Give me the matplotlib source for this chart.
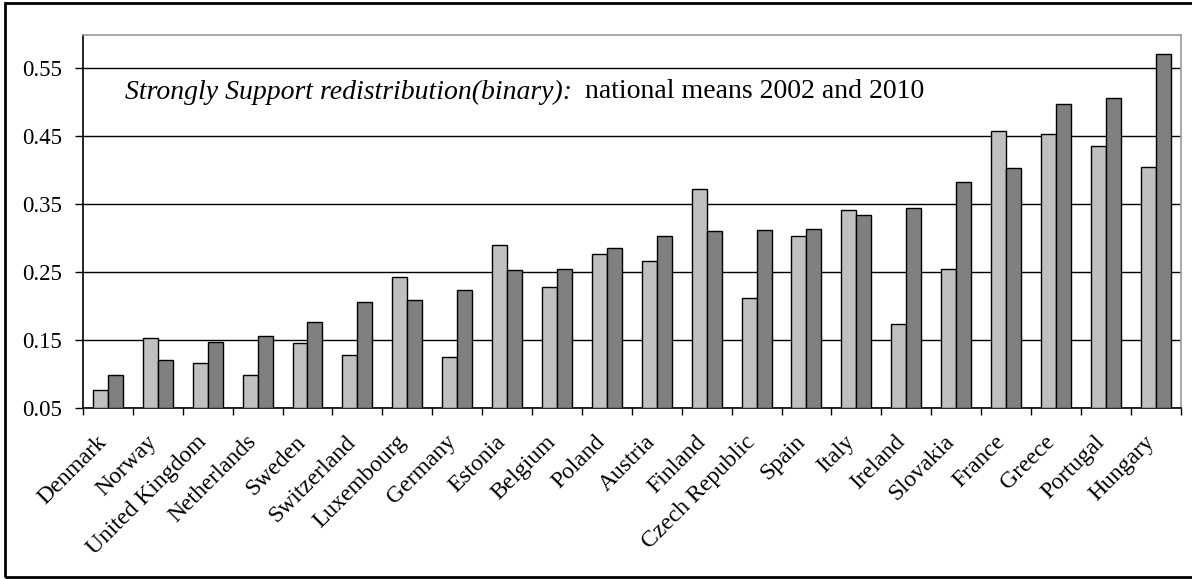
import numpy as np
import matplotlib.pyplot as plt
from matplotlib.patches import Rectangle
from matplotlib.transforms import ScaledTranslation

plt.rcParams['font.family'] = ['Liberation Serif', 'DejaVu Serif']

countries = ['Denmark', 'Norway', 'United Kingdom', 'Netherlands', 'Sweden',
             'Switzerland', 'Luxembourg', 'Germany', 'Estonia', 'Belgium',
             'Poland', 'Austria', 'Finland', 'Czech Republic', 'Spain', 'Italy',
             'Ireland', 'Slovakia', 'France', 'Greece', 'Portugal', 'Hungary']

# national means 2002 (light bars) and 2010 (dark bars)
means_2002 = [0.076, 0.153, 0.116, 0.098, 0.145, 0.127, 0.242, 0.125, 0.290,
              0.228, 0.277, 0.266, 0.373, 0.211, 0.303, 0.341, 0.173, 0.255,
              0.458, 0.453, 0.436, 0.405]
means_2010 = [0.098, 0.120, 0.147, 0.156, 0.177, 0.206, 0.209, 0.223, 0.253,
              0.255, 0.286, 0.303, 0.310, 0.312, 0.314, 0.334, 0.345, 0.383,
              0.403, 0.498, 0.506, 0.572]

yticks = [0.05, 0.15, 0.25, 0.35, 0.45, 0.55]

fig = plt.figure(figsize=(11.92, 5.79), dpi=100)
ax = fig.add_axes([0.0696, 0.2959, 0.9209, 0.6445])

x = np.arange(len(countries))
w = 0.3
ax.bar(x - w / 2, np.array(means_2002) - 0.05, w, bottom=0.05,
       color='#C0C0C0', edgecolor='black', linewidth=1.0, zorder=3)
ax.bar(x + w / 2, np.array(means_2010) - 0.05, w, bottom=0.05,
       color='#808080', edgecolor='black', linewidth=1.0, zorder=3)

ax.set_xlim(-0.5, len(countries) - 0.5)
ax.set_ylim(0.05, 0.6)
ax.set_yticks(yticks)
ax.set_yticklabels(['%.2f' % v for v in yticks], fontsize=16.5)
ax.yaxis.grid(True, color='black', linewidth=1.0, zorder=0)

# ticks between groups, labels under group centres
ax.set_xticks(np.arange(len(countries) + 1) - 0.5)
ax.set_xticklabels([])
ax.set_xticks(x, minor=True)
ax.set_xticklabels(countries, minor=True, rotation=45, ha='right',
                   rotation_mode='anchor', fontsize=17)
ax.tick_params(axis='x', which='minor', length=0, pad=17)
ax.tick_params(axis='x', which='major', length=5, width=1, direction='out')
ax.tick_params(axis='y', length=6, width=1, direction='out', pad=9)
shift = ScaledTranslation(-12 / 100, 0, fig.dpi_scale_trans)
for lbl in ax.get_xticklabels(minor=True):
    lbl.set_transform(lbl.get_transform() + shift)

for side in ['top', 'right']:
    ax.spines[side].set_color('#999999')
    ax.spines[side].set_linewidth(1.2)
for side in ['left', 'bottom']:
    ax.spines[side].set_color('black')
    ax.spines[side].set_linewidth(1.2)

t1 = ax.text(0.038, 0.846, 'Strongly Support redistribution(binary):',
             transform=ax.transAxes, fontsize=20, style='italic', va='center')
fig.canvas.draw()
bb = t1.get_window_extent().transformed(ax.transAxes.inverted())
ax.text(bb.x1 + 0.012, 0.846, 'national means 2002 and 2010',
        transform=ax.transAxes, fontsize=20, va='center')

# outer frame
fig.patches.append(Rectangle((4.5 / 1192, 2 / 579), 1.0, 574 / 579,
                             transform=fig.transFigure, fill=False,
                             edgecolor='black', linewidth=2))

fig.savefig('out.png', dpi=100)
